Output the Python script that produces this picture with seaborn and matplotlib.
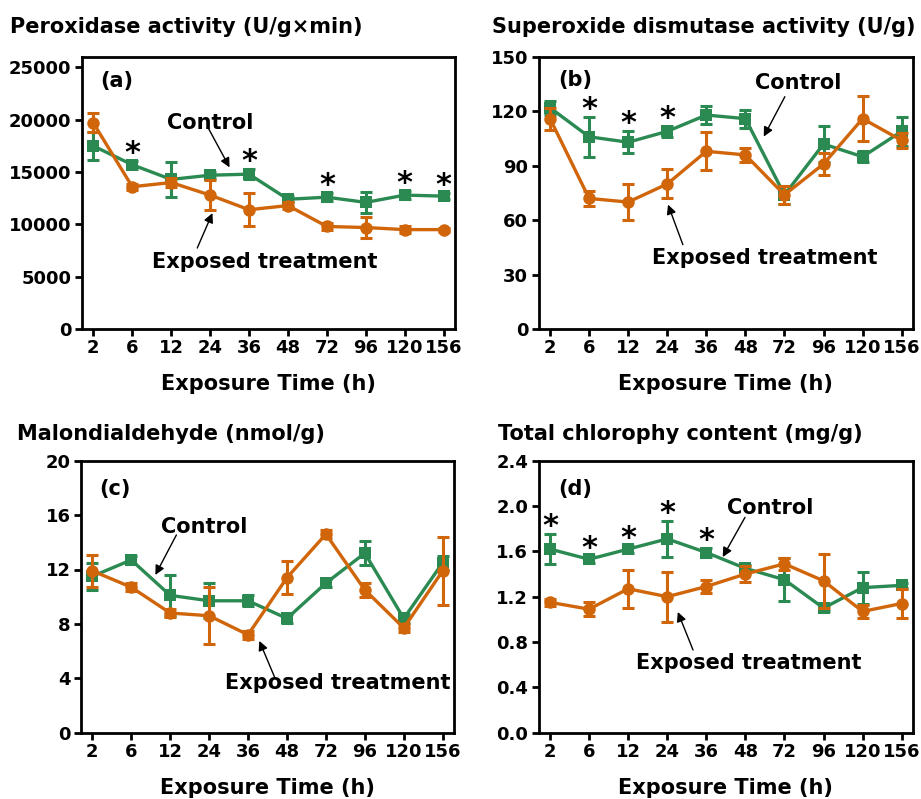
import matplotlib
matplotlib.use("Agg")
import matplotlib.pyplot as plt
import seaborn as sns
import numpy as np
import pandas as pd

sns.set_style("ticks")
plt.rcParams['font.family'] = ['DejaVu Sans']
plt.rcParams['font.weight'] = 'bold'
plt.rcParams['text.color'] = 'black'
plt.rcParams['axes.labelcolor'] = 'black'
plt.rcParams['xtick.color'] = 'black'
plt.rcParams['ytick.color'] = 'black'

times = ["2", "6", "12", "24", "36", "48", "72", "96", "120", "156"]

pod_ctrl = [17500, 15700, 14300, 14700, 14800, 12400, 12600, 12100, 12800, 12700]
pod_ctrl_err = [1300, 400, 1700, 300, 450, 300, 400, 1000, 400, 300]
pod_exp = [19700, 13600, 14000, 12800, 11400, 11800, 9800, 9700, 9500, 9500]
pod_exp_err = [900, 300, 400, 1400, 1600, 300, 300, 1000, 300, 200]
pod_stars = [1, 4, 6, 8, 9]

sod_ctrl = [122, 106, 103, 109, 118, 116, 74, 102, 95, 109]
sod_ctrl_err = [4, 11, 6, 3, 5, 5, 5, 10, 3, 8]
sod_exp = [116, 72, 70, 80, 98, 96, 74, 91, 116, 104]
sod_exp_err = [6, 4, 10, 8, 10.5, 4, 5, 6, 12.5, 4]
sod_stars = [1, 2, 3]

mda_ctrl = [11.5, 12.7, 10.1, 9.7, 9.7, 8.4, 11.0, 13.2, 8.4, 12.5]
mda_ctrl_err = [1.0, 0.3, 1.5, 1.3, 0.4, 0.3, 0.3, 0.9, 0.3, 0.5]
mda_exp = [11.9, 10.7, 8.8, 8.6, 7.2, 11.4, 14.6, 10.5, 7.7, 11.9]
mda_exp_err = [1.15, 0.3, 0.3, 2.1, 0.3, 1.2, 0.3, 0.5, 0.3, 2.5]
mda_stars = []

chl_ctrl = [1.62, 1.53, 1.62, 1.71, 1.59, 1.45, 1.35, 1.10, 1.28, 1.30]
chl_ctrl_err = [0.13, 0.03, 0.03, 0.16, 0.04, 0.03, 0.19, 0.03, 0.14, 0.02]
chl_exp = [1.15, 1.09, 1.27, 1.20, 1.29, 1.40, 1.49, 1.34, 1.07, 1.14]
chl_exp_err = [0.03, 0.06, 0.17, 0.22, 0.06, 0.07, 0.05, 0.24, 0.06, 0.13]
chl_stars = [0, 1, 2, 3, 4]

GREEN = "#2a8a52"
ORANGE = "#d0650a"

W, H = 921, 799
fig = plt.figure(figsize=(W / 100, H / 100), dpi=100)


def px_axes(l, t, r, b):
    return fig.add_axes([l / W, 1 - b / H, (r - l) / W, (b - t) / H])


panels = [
    dict(rect=(82, 57, 455, 329), title="Peroxidase activity (U/g\u00d7min)", tpos=(10, 33),
         ctrl=pod_ctrl, ce=pod_ctrl_err, exp=pod_exp, ee=pod_exp_err, stars=pod_stars,
         ylim=(0, 26000), yticks=np.arange(0, 25001, 5000), fmt="{:.0f}", label="(a)", lpos=(0.59, 23700),
         ctext=(3.0, 19700), carrow=((2.96, 19160), (3.5, 15450)),
         etext=(4.4, 6400), earrow=((2.67, 7740), (3.06, 11080))),
    dict(rect=(538.7, 57, 913, 329), title="Superoxide dismutase activity (U/g)", tpos=(492, 33),
         ctrl=sod_ctrl, ce=sod_ctrl_err, exp=sod_exp, ee=sod_exp_err, stars=sod_stars,
         ylim=(0, 150), yticks=np.arange(0, 151, 30), fmt="{:.0f}", label="(b)", lpos=(0.64, 137.5),
         ctext=(6.36, 135.8), carrow=((6.01, 128.1), (5.47, 106.1)),
         etext=(5.5, 39.3), earrow=((3.4, 46.5), (3.02, 68.6))),
    dict(rect=(81, 460.7, 454, 732.7), title="Malondialdehyde (nmol/g)", tpos=(17, 440),
         ctrl=mda_ctrl, ce=mda_ctrl_err, exp=mda_exp, ee=mda_exp_err, stars=mda_stars,
         ylim=(0, 20), yticks=np.arange(0, 21, 4), fmt="{:.0f}", label="(c)", lpos=(0.59, 17.9),
         ctext=(2.88, 15.13), carrow=((2.16, 14.54), (1.62, 11.6)),
         etext=(6.31, 3.65), earrow=((4.68, 4.1), (4.29, 6.75))),
    dict(rect=(538.7, 460.7, 913, 732.7), title="Total chlorophy content (mg/g)", tpos=(498, 440),
         ctrl=chl_ctrl, ce=chl_ctrl_err, exp=chl_exp, ee=chl_exp_err, stars=chl_stars,
         ylim=(0, 2.4), yticks=np.round(np.arange(0, 2.41, 0.4), 1), fmt="{:.1f}", label="(d)", lpos=(0.64, 2.15),
         ctext=(5.63, 1.983), carrow=((4.99, 1.90), (4.42, 1.55)),
         etext=(5.08, 0.615), earrow=((3.66, 0.73), (3.27, 1.065))),
]

pos = np.arange(len(times))

for p in panels:
    ax = px_axes(*p["rect"])
    df = pd.DataFrame({"pos": np.concatenate([pos, pos]),
                       "val": p["ctrl"] + p["exp"],
                       "grp": ["Control"] * len(pos) + ["Exposed"] * len(pos)})
    for grp, col, mk, ms, err, z in [("Control", GREEN, "s", 8.5, p["ce"], 3),
                                     ("Exposed", ORANGE, "o", 9, p["ee"], 4)]:
        sub = df[df.grp == grp]
        sns.lineplot(data=sub, x="pos", y="val", color=col, marker=mk, markersize=ms,
                     markeredgewidth=0, linewidth=2.4, ax=ax, zorder=z, legend=False)
        ax.errorbar(sub["pos"], sub["val"], yerr=err, fmt="none", ecolor=col,
                    elinewidth=2.2, capsize=4, capthick=2.2, zorder=z)
    for i in p["stars"]:
        top = max(p["ctrl"][i] + p["ce"][i], p["exp"][i] + p["ee"][i])
        ax.annotate("*", xy=(i, top), xytext=(0, -5), textcoords="offset points",
                    ha="center", va="bottom", fontsize=22, fontweight="bold", color="black")
    ax.set_xlim(-0.29, 9.29)
    ax.set_ylim(*p["ylim"])
    ax.set_xticks(pos)
    ax.set_xticklabels(times, fontsize=13, fontweight="bold")
    ax.set_yticks(p["yticks"])
    ax.set_yticklabels([p["fmt"].format(v) for v in p["yticks"]], fontsize=13, fontweight="bold")
    ax.set_ylabel("")
    ax.set_xlabel("Exposure Time (h)", fontsize=15, fontweight="bold", labelpad=12)
    for s in ax.spines.values():
        s.set_visible(True)
        s.set_linewidth(2)
        s.set_color("black")
    ax.tick_params(direction="out", length=5, width=2, pad=2.5, colors="black")
    ax.text(*p["lpos"], p["label"], fontsize=15, fontweight="bold", ha="center", va="center")
    ax.text(*p["ctext"], "Control", fontsize=15, fontweight="bold", ha="center", va="center")
    ax.text(*p["etext"], "Exposed treatment", fontsize=15, fontweight="bold", ha="center", va="center")
    for tail, head in [p["carrow"], p["earrow"]]:
        ax.annotate("", xy=head, xytext=tail,
                    arrowprops=dict(arrowstyle="-|>", color="black", lw=1, mutation_scale=14,
                                    shrinkA=0, shrinkB=0))
    fig.text(p["tpos"][0] / W, 1 - p["tpos"][1] / H, p["title"], fontsize=15, fontweight="bold",
             ha="left", va="baseline")

fig.savefig("out.png", dpi=100)
